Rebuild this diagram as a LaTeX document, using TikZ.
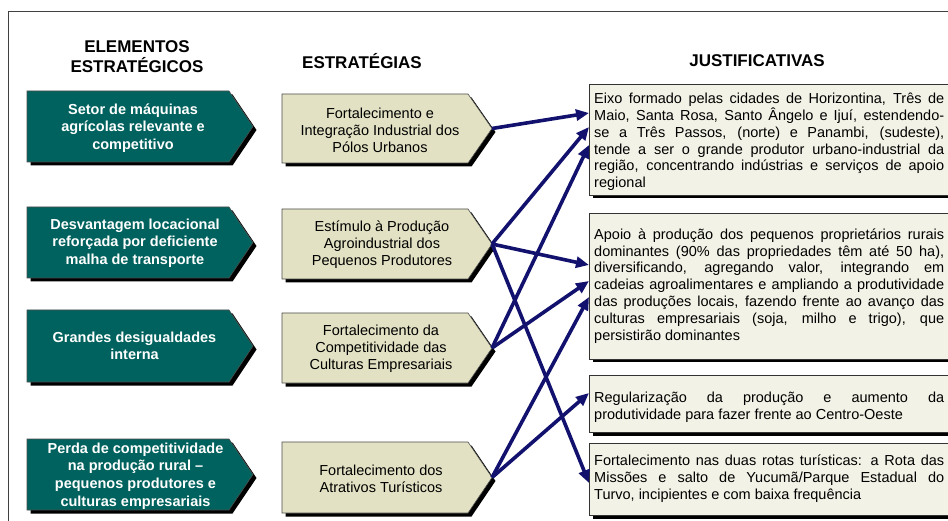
\documentclass[tikz,border=0pt]{standalone}
\usepackage{fontspec}
\setmainfont{Liberation Sans}
\usetikzlibrary{arrows.meta}
\definecolor{elgreen}{HTML}{00625E}
\definecolor{stbeige}{HTML}{E2E1C3}
\definecolor{jufill}{HTML}{F3F2E6}
\definecolor{arrownavy}{HTML}{12126E}
\tolerance=10000
\hyphenpenalty=10000
\begin{document}
\begin{tikzpicture}[x=1pt,y=-1pt,
 shadowfill/.style={fill=black,draw=none},
 greenshape/.style={fill=elgreen,draw=black!70,line width=0.6pt},
 beigeshape/.style={fill=stbeige,draw=black!70,line width=0.6pt},
 jshape/.style={fill=jufill,draw=black!80,line width=0.8pt},
 greentext/.style={text=white,font=\fontsize{14.5}{17.6}\selectfont\bfseries,align=center,inner sep=0pt},
 beigetext/.style={text=black,font=\fontsize{14.5}{17}\selectfont,align=center,inner sep=0pt},
 jtext/.style={font=\fontsize{14.5}{16.8}\selectfont,text width=350pt,align=justify,inner sep=0pt,anchor=north west},
 header/.style={font=\fontsize{17}{20}\selectfont\bfseries,align=center,inner sep=0pt},
 link/.style={draw=arrownavy,line width=3.6pt,-{Triangle[length=13pt,width=11pt]}},
 frameline/.style={draw=black!75,line width=1pt}
]
\useasboundingbox (0,0) rectangle (948,521);
\clip (0,0) rectangle (948,521);
\fill[white] (0,0) rectangle (948,521);
% frame
\draw[frameline] (8,540) -- (8,11.5) -- (970,11.5);

% headers
\node[header] (h1) at (137,57) {ELEMENTOS\\ESTRATÉGICOS};
\node[header] (h2) at (362,61) {ESTRATÉGIAS};
\node[header] (h3) at (757,61) {JUSTIFICATIVAS};

% green element shapes
\foreach \t/\b in {91/162,207/278,310/382,439/510}{
  \fill[shadowfill] (27+3.5,\t+3.5) -- (229+3.5,\t+3.5) -- (253+3.5,{(\t+\b)/2+3.5}) -- (229+3.5,\b+3.5) -- (27+3.5,\b+3.5) -- cycle;
  \path[greenshape] (27,\t) -- (229,\t) -- (253,{(\t+\b)/2}) -- (229,\b) -- (27,\b) -- cycle;
}
% beige strategy shapes
\foreach \t/\b in {94/163,209/279,313/383,442/513}{
  \fill[shadowfill] (282+3.5,\t+3.5) -- (468+3.5,\t+3.5) -- (492+3.5,{(\t+\b)/2+3.5}) -- (468+3.5,\b+3.5) -- (282+3.5,\b+3.5) -- cycle;
  \path[beigeshape] (282,\t) -- (468,\t) -- (492,{(\t+\b)/2}) -- (468,\b) -- (282,\b) -- cycle;
}
% justification boxes
\foreach \t/\b in {84/195,213/359,375/432,443/515}{
  \fill[shadowfill] (589+3.5,\t+3.5) rectangle (975,\b+3.5);
  \path[jshape] (589,\t) rectangle (970,\b);
}

% element texts
\node[greentext] (e1) at (133,128) {Setor de máquinas\\agrícolas relevante e\\competitivo};
\node[greentext] (e2) at (135,243) {Desvantagem locacional\\reforçada por deficiente\\malha de transporte};
\node[greentext] (e3) at (134.5,346) {Grandes desigualdades\\interna};
\node[greentext] (e4) at (135.5,476) {Perda de competitividade\\na produção rural --\\pequenos produtores e\\culturas empresariais};

% strategy texts
\node[beigetext] (s1) at (380,130) {Fortalecimento e\\Integração Industrial dos\\Pólos Urbanos};
\node[beigetext] (s2) at (382,245) {Estímulo à Produção\\Agroindustrial dos\\Pequenos Produtores};
\node[beigetext] (s3) at (381,349) {Fortalecimento da\\Competitividade das\\Culturas Empresariais};
\node[beigetext] (s4) at (381,479) {Fortalecimento dos\\Atrativos Turísticos};

% justification texts
\node[jtext] (j1) at (594,93) {Eixo formado pelas cidades de Horizontina, Três de\linebreak Maio, Santa Rosa, Santo Ângelo e Ijuí, estendendo-\linebreak se a Três Passos, (norte) e Panambi, (sudeste),\linebreak tende a ser o grande produtor urbano-industrial da\linebreak região, concentrando indústrias e serviços de apoio\linebreak regional};
\node[jtext] (j2) at (594,228.5) {Apoio à produção dos pequenos proprietários rurais\linebreak dominantes (90\% das propriedades têm até 50 ha),\linebreak diversificando, agregando valor, integrando em\linebreak cadeias agroalimentares e ampliando a produtividade\linebreak das produções locais, fazendo frente ao avanço das\linebreak culturas empresariais (soja, milho e trigo), que\linebreak persistirão dominantes};
\node[jtext] (j3) at (594,392) {Regularização da produção e aumento da\linebreak produtividade para fazer frente ao Centro-Oeste};
\node[jtext] (j4) at (594,455) {Fortalecimento nas duas rotas turísticas: a Rota das\linebreak Missões e salto de Yucumã/Parque Estadual do\linebreak Turvo, incipientes e com baixa frequência};

% connector end points
\coordinate (s1tip) at (492,128.5);
\coordinate (s2tip) at (492,244);
\coordinate (s3tip) at (492,348);
\coordinate (s4tip) at (492,477.5);
\coordinate (j1a) at (589,113);
\coordinate (j1b) at (589,127);
\coordinate (j1c) at (589,145);
\coordinate (j2a) at (589,265);
\coordinate (j2b) at (589,281);
\coordinate (j2c) at (589,297);
\coordinate (j3a) at (589,393);
\coordinate (j4a) at (589,483);

% connectors
\draw[link] (s1tip) -- (j1a);
\draw[link] (s2tip) -- (j1b);
\draw[link] (s3tip) -- (j1c);
\draw[link] (s2tip) -- (j2a);
\draw[link] (s3tip) -- (j2b);
\draw[link] (s4tip) -- (j2c);
\draw[link] (s4tip) -- (j3a);
\draw[link] (s2tip) -- (j4a);
\end{tikzpicture}
\end{document}
